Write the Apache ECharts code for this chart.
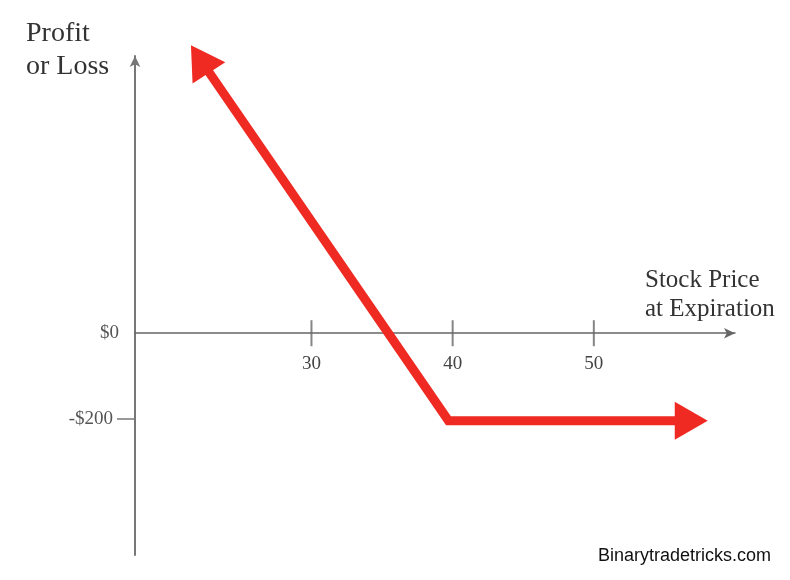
<!DOCTYPE html>
<html><head><meta charset="utf-8">
<script src="https://cdn.jsdelivr.net/npm/echarts@6/dist/echarts.min.js"></script>
<style>html,body{margin:0;padding:0;background:#fff}#c{width:790px;height:580px}</style>
</head><body><div id="c"></div>
<script>
// Data
const priceTicks = [30, 40, 50];          // x-axis tick labels (stock price)
const plTicks = [0, -200];                // y-axis tick labels (profit / loss)
const payoffPrice = [22.1, 39.7, 56.9];   // payoff line: stock price
const payoffPL = [643, -205, -205];       // payoff line: profit or loss

const RED = '#ef2a23';
const serif = '"Liberation Serif", "DejaVu Serif", serif';

const Y_MIN = -520, Y_MAX = 650, GRID_TOP = 56, GRID_BOTTOM = 25, H = 580;
const plotH = H - GRID_TOP - GRID_BOTTOM;
const zeroOffset = -(plotH * (0 - Y_MIN) / (Y_MAX - Y_MIN));

const chart = echarts.init(document.getElementById('c'), null, {renderer: 'canvas'});

const lineData = payoffPrice.map((x, i) => {
  const d = {value: [x, payoffPL[i]]};
  if (i === 0) { d.symbol = 'triangle'; d.symbolSize = [39, 33]; d.symbolRotate = 33; }
  else if (i === payoffPrice.length - 1) { d.symbol = 'triangle'; d.symbolSize = [38, 33]; d.symbolRotate = -90; }
  else { d.symbol = 'none'; }
  return d;
});

chart.setOption({
  animation: false,
  backgroundColor: '#ffffff',
  grid: {left: 135, right: 55, top: GRID_TOP, bottom: GRID_BOTTOM, containLabel: false, outerBoundsMode: 'none'},
  xAxis: {
    type: 'value', min: 17.5, max: 60, position: 'bottom', offset: zeroOffset,
    axisLine: {onZero: false, symbol: ['none', 'arrow'], symbolSize: [8, 11],
      lineStyle: {color: '#666', width: 1.5}},
    axisTick: {show: false},
    splitLine: {show: false},
    axisLabel: {customValues: priceTicks, margin: 21, fontFamily: serif, fontSize: 19, color: '#444'}
  },
  yAxis: {
    type: 'value', min: Y_MIN, max: Y_MAX,
    axisLine: {onZero: false, symbol: ['none', 'arrow'], symbolSize: [8, 11],
      lineStyle: {color: '#777', width: 2}},
    axisTick: {show: true, customValues: [plTicks[1]], length: 18, lineStyle: {color: '#777', width: 1.5}},
    splitLine: {show: false},
    axisLabel: {
      customValues: plTicks, margin: 16, fontFamily: serif, fontSize: 19, color: '#555',
      formatter: v => v === 0 ? '$0' : '{p|' + (v < 0 ? '-$' : '$') + Math.abs(v) + '}',
      rich: {p: {fontFamily: serif, fontSize: 19, color: '#555', padding: [0, 6, 0, 0]}}
    }
  },
  series: [
    {
      type: 'scatter', silent: true, clip: false,
      data: priceTicks.map(v => [v, 0]),
      symbol: 'rect', symbolSize: [2, 26],
      itemStyle: {color: '#666'}, z: 1
    },
    {
      type: 'line', clip: false, silent: true,
      data: lineData,
      lineStyle: {color: RED, width: 9, join: 'miter', cap: 'butt'},
      itemStyle: {color: RED},
      z: 5
    }
  ],
  graphic: [
    {type: 'text', left: 26, top: 17, style: {text: 'Profit\nor Loss', font: '28px ' + serif, fill: '#333', lineHeight: 33}},
    {type: 'text', left: 645, top: 266, style: {text: 'Stock Price\nat Expiration', font: '25px ' + serif, fill: '#333', lineHeight: 29}},
    {type: 'text', left: 598, top: 547, style: {text: 'Binarytradetricks.com', font: '18px "Liberation Sans", Arial, sans-serif', fill: '#111'}}
  ]
});
</script>
</body></html>
